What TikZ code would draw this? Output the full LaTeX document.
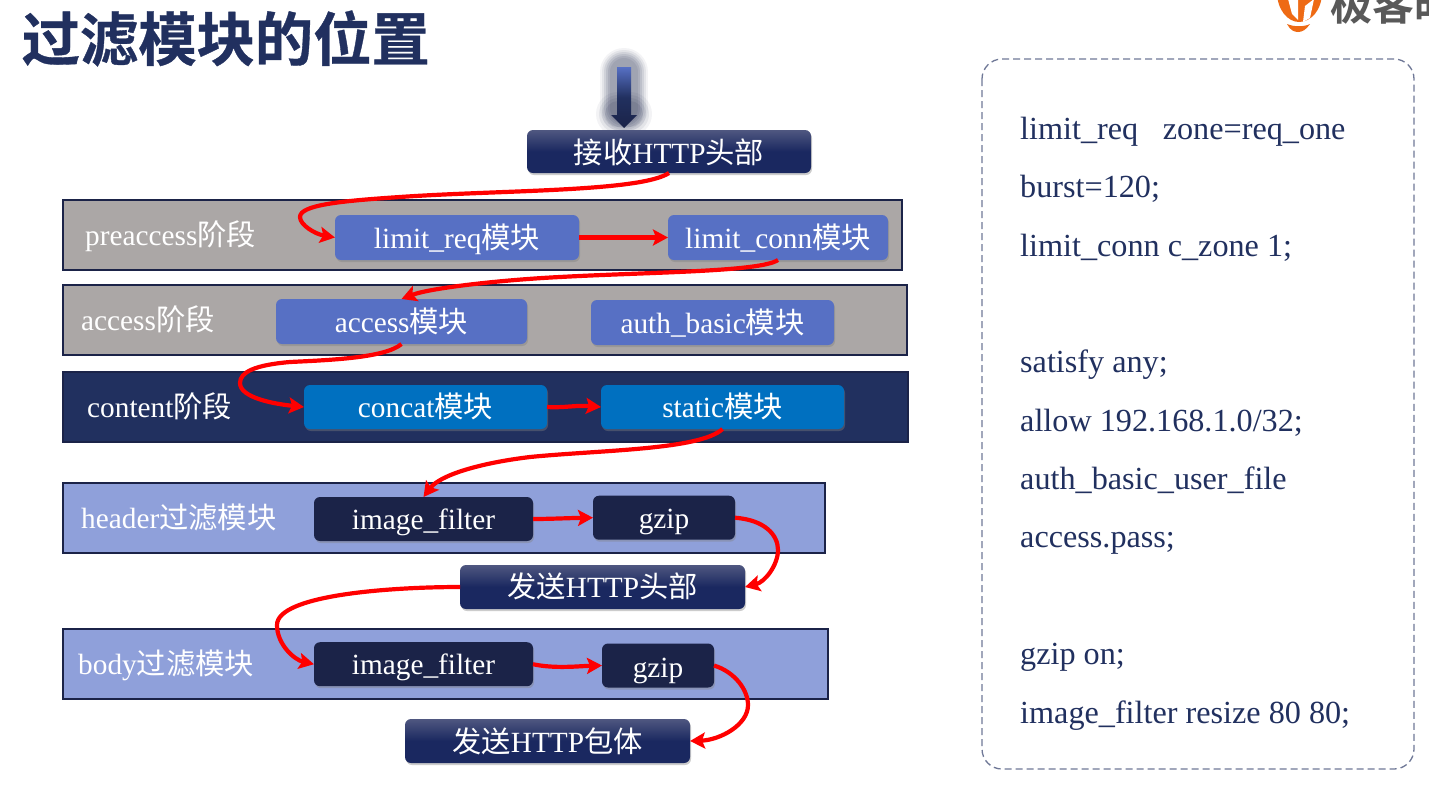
\documentclass[tikz,border=0pt]{standalone}
\usepackage{fontspec}
\setmainfont{Liberation Serif}
\newfontfamily\cjk{Noto Sans CJK SC}
\newfontfamily\cjkb{Noto Sans CJK SC Bold}
\newfontfamily\cjkh[FakeBold=0.6]{Noto Sans CJK SC Bold}
\usetikzlibrary{arrows.meta,shadows}
\definecolor{navy}{HTML}{21305F}
\definecolor{dnavy}{HTML}{1B2348}
\definecolor{gradtop}{HTML}{4F5780}
\definecolor{gradbot}{HTML}{1A2860}
\definecolor{stonegray}{HTML}{ABA7A6}
\definecolor{periw}{HTML}{8FA0DA}
\definecolor{modblue}{HTML}{5770C4}
\definecolor{conblue}{HTML}{0070C0}
\definecolor{logoor}{HTML}{EE6A14}
\tikzset{
  txt/.style={font=\fontsize{29.3}{32}\selectfont, text=white},
  band/.style={draw=dnavy, line width=2pt, inner sep=0pt, outer sep=0pt, anchor=north west},
  lab/.style={txt, anchor=base west, inner sep=0pt},
  bl/.style={text height=#1pt, text depth=1pt},
  mod/.style={txt, bl=22, rounded corners=6pt, inner sep=0pt, outer sep=0pt, drop shadow={opacity=.4, shadow xshift=1pt, shadow yshift=-2pt}},
  modgray/.style={mod, fill=modblue},
  modcon/.style={mod, fill=conblue},
  moddark/.style={mod, fill=dnavy},
  modgrad/.style={mod, top color=gradtop, bottom color=gradbot, middle color=gradbot},
  flow/.style={draw=red, line width=4.2pt, -{Stealth[length=15pt,width=16pt,inset=3pt]}},
  code/.style={anchor=base west, inner sep=0pt, text=navy, font=\fontsize{32.2}{34}\selectfont},
}
\begin{document}
\begin{tikzpicture}[x=1pt,y=-1pt]
\useasboundingbox (0,0) rectangle (1429,788);
\fill[white] (0,0) rectangle (1429,788);
% logo
\begin{scope}
\clip (0,0) rectangle (1429,788);
\fill[logoor] (1277,-8) .. controls (1277,10) and (1288,22) .. (1299,22) .. controls (1311,22) and (1322,10) .. (1322,-8) -- cycle;
\fill[white] (1288,-1) -- (1298,-1) -- (1298,20) -- (1292,14) -- cycle;
\fill[white] (1303,22) -- (1305,6) -- (1314,-1) -- (1310,18) -- cycle;
\fill[logoor] (1287,24) .. controls (1294,27) and (1304,27) .. (1310,24) .. controls (1306,30) and (1302,32) .. (1298,32) .. controls (1294,32) and (1290,30) .. (1287,24) -- cycle;
\node[anchor=west, inner sep=0pt, text=black!65, font=\fontsize{42}{44}\selectfont] (logotext) at (1330,4) {\cjkb 极客时};
\end{scope}
% title
\node[anchor=west, inner sep=0pt, text=navy, font=\fontsize{58.3}{60}\selectfont] (title) at (21.5,38.5) {\cjkh 过滤模块的位置};
% top arrow
\foreach \w/\o in {48/.05,44/.07,40/.09,36/.1,32/.1,28/.08}{
  \draw[dnavy, opacity=\o, line width=\w pt, line cap=round, line join=round] (624,72) -- (624,108);
}
\foreach \w/\o in {44/.05,38/.07,32/.08,26/.1}{
  \draw[dnavy, opacity=\o, line width=\w pt, line cap=round, line join=round] (618,114) -- (630,114);
}
\shade[top color=modblue, bottom color=dnavy, middle color=navy] (617,67) -- (631,67) -- (631,115) -- (637,115) -- (624,128) -- (611,115) -- (617,115) -- cycle;
% bands
\node[band, fill=stonegray, minimum width=839pt, minimum height=70pt] (b1) at (63,200) {};
\node[band, fill=stonegray, minimum width=844pt, minimum height=70pt] (b2) at (63,285) {};
\node[band, fill=navy, minimum width=845pt, minimum height=70pt] (b3) at (63,372) {};
\node[band, fill=periw, minimum width=762pt, minimum height=70pt] (b4) at (63,483) {};
\node[band, fill=periw, minimum width=765pt, minimum height=70pt] (b5) at (63,629) {};
\node[lab] (l1) at (85,245) {preaccess{\cjk 阶段}};
\node[lab] (l2) at (81,330) {access{\cjk 阶段}};
\node[lab] (l3) at (87,417) {content{\cjk 阶段}};
\node[lab] (l4) at (81,528) {header{\cjk 过滤模块}};
\node[lab] (l5) at (78,674) {body{\cjk 过滤模块}};
% modules
\node[modgrad, bl=24, minimum width=284pt, minimum height=43pt] (recv) at (669,151.5) {{\cjk 接收}HTTP{\cjk 头部}};
\node[modgray, minimum width=244pt, minimum height=45pt] (lreq) at (457,237.5) {limit\_req{\cjk 模块}};
\node[modgray, minimum width=220pt, minimum height=45pt] (lconn) at (778,237.5) {limit\_conn{\cjk 模块}};
\node[modgray, minimum width=251pt, minimum height=45pt] (acc) at (401.5,321.5) {access{\cjk 模块}};
\node[modgray, minimum width=243pt, minimum height=45pt] (auth) at (712.5,322.5) {auth\_basic{\cjk 模块}};
\node[modcon, minimum width=243pt, minimum height=44pt] (concat) at (425.5,407) {concat{\cjk 模块}};
\node[modcon, minimum width=243pt, minimum height=44pt] (static) at (722.5,407) {static{\cjk 模块}};
\node[moddark, bl=22, minimum width=219pt, minimum height=44pt] (img1) at (423.5,519) {image\_filter};
\node[moddark, bl=23, minimum width=142pt, minimum height=44pt] (gz1) at (664,517.7) {gzip};
\node[modgrad, bl=22, minimum width=285pt, minimum height=44pt] (sendh) at (602.5,587) {{\cjk 发送}HTTP{\cjk 头部}};
\node[moddark, bl=22, minimum width=219pt, minimum height=44pt] (img2) at (423.5,664.2) {image\_filter};
\node[moddark, bl=25, minimum width=112pt, minimum height=44pt] (gz2) at (658,665.5) {gzip};
\node[modgrad, bl=24, minimum width=285pt, minimum height=44pt] (sendb) at (547.5,741) {{\cjk 发送}HTTP{\cjk 包体}};
% connectors
\draw[flow] (recv.south) .. controls (640,192) and (500,190) .. (400,197) .. controls (340,201) and (300,205) .. (300,217) .. controls (300,225) and (315,234) .. (lreq.west);
\draw[flow] (lreq.east) -- (lconn.west);
\draw[flow] (lconn.south) .. controls (760,272) and (650,272) .. (560,277) .. controls (500,280) and (430,288) .. (acc.north);
\draw[flow] (acc.south) .. controls (385,358) and (330,360) .. (290,362) .. controls (255,365) and (240,372) .. (240,383) .. controls (240,398) and (275,404) .. (concat.west);
\draw[flow] (concat.east) .. controls (565,408) and (575,405) .. (static.west);
\draw[flow] (static.south) .. controls (700,450) and (600,450) .. (530,457) .. controls (480,463) and (440,475) .. (img1.north);
\draw[flow] (img1.east) .. controls (550,519) and (570,518) .. (gz1.west);
\draw[flow] (gz1.east) .. controls (765,520) and (778,535) .. (778,550) .. controls (778,565) and (765,582) .. (sendh.east);
\draw[flow] (sendh.west) .. controls (390,587) and (277,595) .. (277,625) .. controls (277,645) and (295,660) .. (img2.west);
\draw[flow] (img2.east) .. controls (555,669) and (580,666) .. (gz2.west);
\draw[flow] (gz2.east) .. controls (735,672) and (748,690) .. (748,705) .. controls (748,725) and (720,740) .. (sendb.east);
% panel
\draw[navy!65, line width=1.3pt, dash pattern=on 7pt off 4pt, rounded corners=20pt] (982,59) rectangle (1414,769);
\node[code] (c1) at (1020,139.5) {limit\_req\hspace{16.5pt} zone=req\_one};
\node[code] (c2) at (1020,197.9) {burst=120;};
\node[code] (c3) at (1020,256) {limit\_conn c\_zone 1;};
\node[code] (c4) at (1020,372.5) {satisfy any;};
\node[code] (c5) at (1020,431) {allow 192.168.1.0/32;};
\node[code] (c6) at (1020,489.4) {auth\_basic\_user\_file};
\node[code] (c7) at (1020,547.8) {access.pass;};
\node[code] (c8) at (1020,664.6) {gzip on;};
\node[code] (c9) at (1020,723) {image\_filter resize 80 80;};
\end{tikzpicture}
\end{document}
